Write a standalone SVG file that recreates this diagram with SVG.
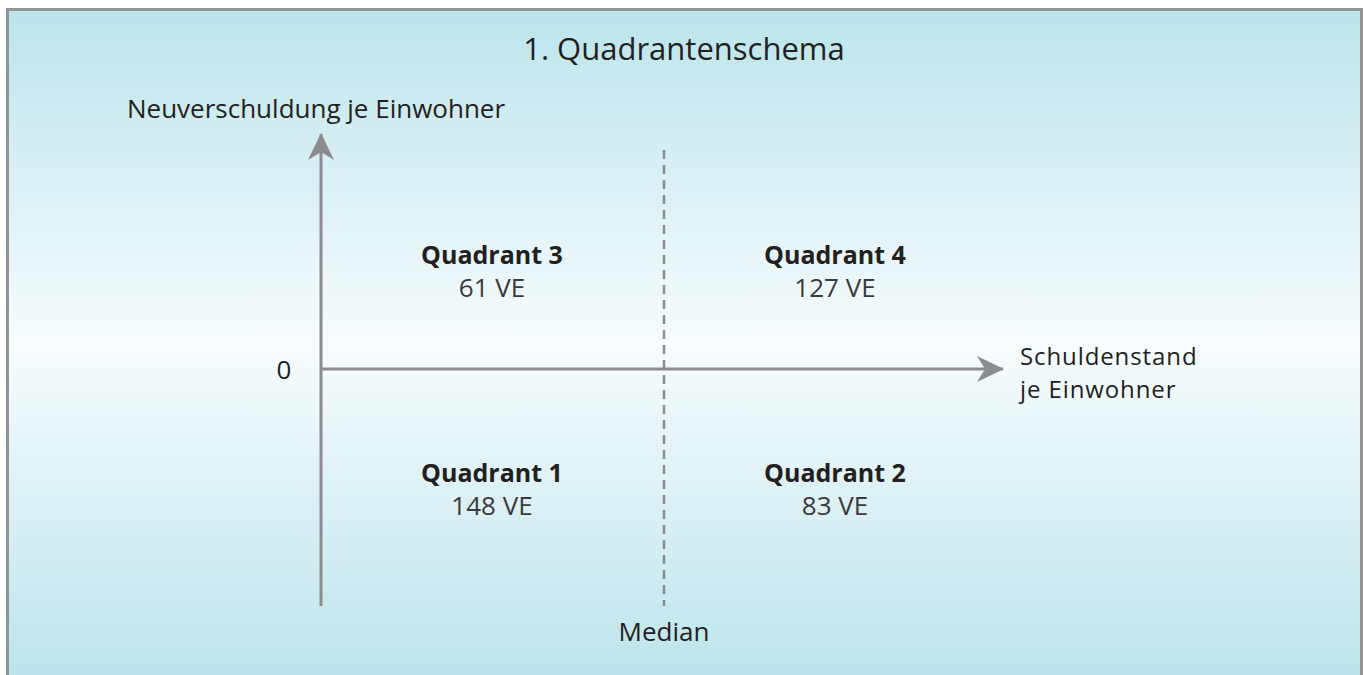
<svg xmlns="http://www.w3.org/2000/svg" width="1365" height="675" viewBox="0 0 1365 675">
<defs>
<linearGradient id="bg" x1="0" y1="0" x2="0" y2="1">
<stop offset="0" stop-color="#bce4ec"/>
<stop offset="0.5" stop-color="#f7fcfd"/>
<stop offset="1" stop-color="#bce4ec"/>
</linearGradient>
<marker id="arr" viewBox="0 0 28 28" refX="26" refY="14" markerWidth="28" markerHeight="28" markerUnits="userSpaceOnUse" orient="auto">
<path d="M0,1 L27,14 L0,27 L8,14 Z" fill="#8c8c8f"/>
</marker>
<style>
text{font-family:"Open Sans","Noto Sans","Liberation Sans",sans-serif;fill:#231f20}
.lbl{font-size:26px}
.lbl2{font-size:24px;letter-spacing:0.9px}
.b{font-size:25px;font-weight:bold}
.v{font-size:26px;fill:#3a3a3c}
.axis{stroke:#8c8c8f;stroke-width:3;fill:none}
.med{stroke:#8c8c8f;stroke-width:2.5;stroke-dasharray:9 6;fill:none}
</style>
</defs>
<rect x="7.5" y="9.5" width="1354" height="670" fill="url(#bg)" stroke="#939598" stroke-width="3"/>
<text x="684" y="60" text-anchor="middle" style="font-size:31px">1. Quadrantenschema</text>
<g id="connectors">
<line class="axis" x1="321" y1="606" x2="321" y2="134" marker-end="url(#arr)"/>
<line class="axis" x1="321" y1="369" x2="1003" y2="369" marker-end="url(#arr)"/>
<line class="med" x1="664" y1="150" x2="664" y2="606"/>
</g>
<g id="y-axis-label"><text class="lbl" x="127" y="118">Neuverschuldung je Einwohner</text></g>
<g id="x-axis-label"><text class="lbl2" x="1020" y="365">Schuldenstand</text><text class="lbl2" x="1020" y="398">je Einwohner</text></g>
<g id="zero"><text class="lbl" x="284" y="379" text-anchor="middle">0</text></g>
<g id="q3"><text class="b" x="492" y="264" text-anchor="middle">Quadrant 3</text><text class="v" x="492" y="297" text-anchor="middle">61 VE</text></g>
<g id="q4"><text class="b" x="835" y="264" text-anchor="middle">Quadrant 4</text><text class="v" x="835" y="297" text-anchor="middle">127 VE</text></g>
<g id="q1"><text class="b" x="492" y="482" text-anchor="middle">Quadrant 1</text><text class="v" x="492" y="515" text-anchor="middle">148 VE</text></g>
<g id="q2"><text class="b" x="835" y="482" text-anchor="middle">Quadrant 2</text><text class="v" x="835" y="515" text-anchor="middle">83 VE</text></g>
<g id="median"><text class="lbl" x="664" y="641" text-anchor="middle">Median</text></g>
</svg>
